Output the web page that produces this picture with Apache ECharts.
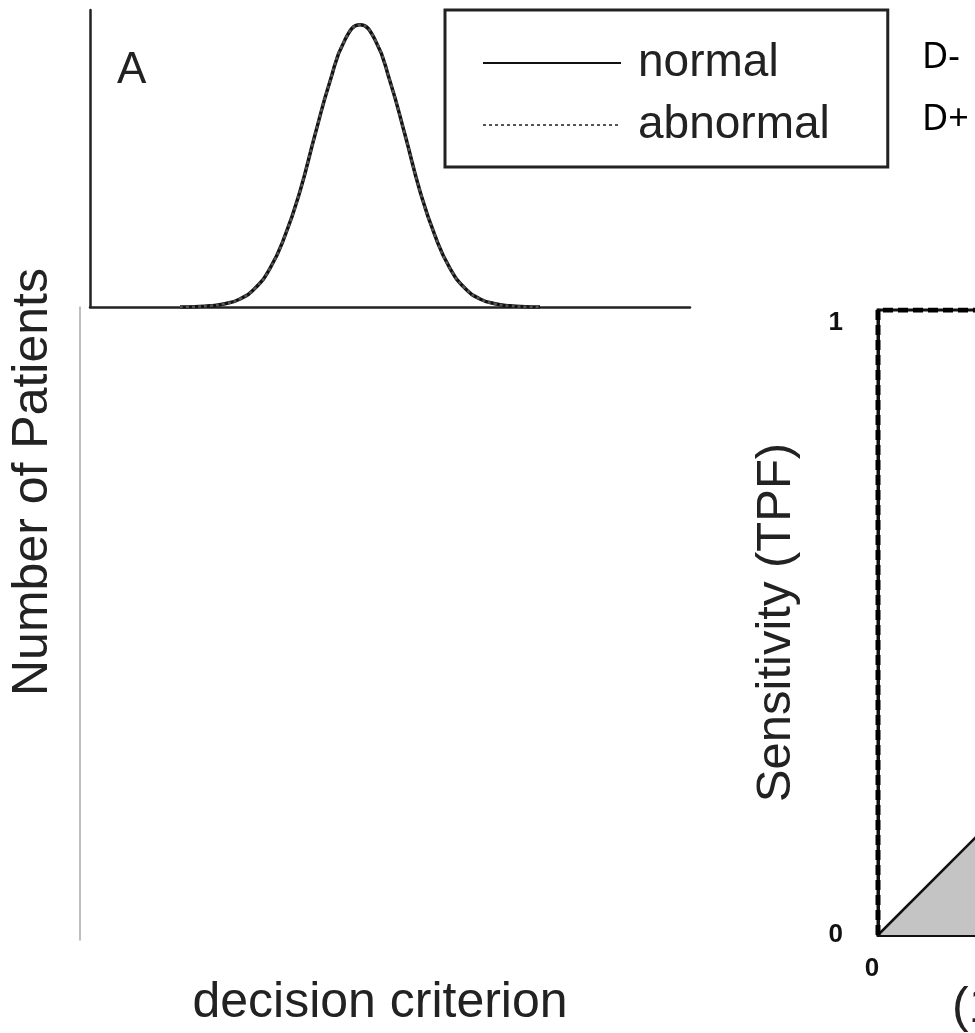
<!DOCTYPE html>
<html>
<head>
<meta charset="utf-8">
<script src="https://cdn.jsdelivr.net/npm/echarts@6/dist/echarts.min.js"></script>
<style>
  html, body { margin: 0; padding: 0; background: #fff; }
  #chart { width: 975px; height: 1033px; }
</style>
</head>
<body>
<div id="chart"></div>
<script>
// decision criterion (x) and number of patients (y)
let criterion = [15, 17.5, 20, 22.5, 25, 27.5, 30, 32.5, 35, 37.5, 40, 42.5, 45,
  47.5, 50, 52.5, 55, 57.5, 60, 62.5, 65, 67.5, 70, 72.5, 75];
let normalCount = [0, 0.1, 0.4, 1.1, 2.7, 6.3, 13, 24, 39, 58, 76, 90, 95,
  90, 76, 58, 39, 24, 13, 6.3, 2.7, 1.1, 0.4, 0.1, 0];
let abnormalCount = [0, 0.1, 0.4, 1.1, 2.7, 6.3, 13, 24, 39, 58, 76, 90, 95,
  90, 76, 58, 39, 24, 13, 6.3, 2.7, 1.1, 0.4, 0.1, 0];

// ROC panel
let rocFpf = [0, 0, 1];
let rocTpf = [0, 1, 1];
let chanceFpf = [0, 1];
let chanceTpf = [0, 1];

function pairs(xs, ys) {
  return xs.map(function(x, i) { return [x, ys[i]]; });
}

let font = '"Liberation Sans", Arial, sans-serif';
let chart = echarts.init(document.getElementById("chart"));

let option = {
  backgroundColor: "#fff",
  animation: false,
  title: {
    text: "A",
    left: 112,
    top: 44,
    textStyle: { fontFamily: font, fontSize: 44, fontWeight: "normal", color: "#222" }
  },
  legend: {
    orient: "vertical",
    left: 445,
    top: 10,
    padding: [30, 58, 19, 37],
    itemGap: 16,
    itemWidth: 138,
    itemHeight: 14,
    borderColor: "#222",
    borderWidth: 3,
    data: ["normal", "abnormal"],
    itemStyle: { opacity: 0 },
    textStyle: { fontFamily: font, fontSize: 46, color: "#222", padding: [0, 0, 0, 12] }
  },
  grid: [
    { left: 90, top: 10, width: 600, height: 297, outerBoundsMode: "none" },
    { left: 80, top: 307, width: 600, height: 633, outerBoundsMode: "none" },
    { left: 878, top: 310, width: 625, height: 625, outerBoundsMode: "none",
      show: true, borderColor: "#111", borderWidth: 3 }
  ],
  xAxis: [
    {
      gridIndex: 0, type: "value", min: 0, max: 100,
      axisLine: { lineStyle: { color: "#222", width: 2.5 } },
      axisTick: { show: false }, axisLabel: { show: false }, splitLine: { show: false }
    },
    {
      gridIndex: 1, type: "value", min: 0, max: 1,
      axisLine: { show: false }, axisTick: { show: false }, axisLabel: { show: false },
      splitLine: { show: false },
      name: "decision criterion", nameLocation: "middle", nameGap: 38,
      nameTextStyle: { fontFamily: font, fontSize: 50, color: "#222" }
    },
    {
      gridIndex: 2, type: "value", min: 0, max: 1, interval: 1,
      axisLine: { lineStyle: { color: "#111", width: 3 } },
      axisTick: { show: false }, splitLine: { show: false },
      axisLabel: {
        margin: 21, fontFamily: font, fontSize: 26, fontWeight: "bold", color: "#111",
        formatter: function(v) { return v === 0 ? "{lo|0}" : String(v); },
        rich: { lo: { padding: [0, 12, 0, 0], fontFamily: font, fontSize: 26, fontWeight: "bold", color: "#111" } }
      }
    }
  ],
  yAxis: [
    {
      gridIndex: 0, type: "value", min: 0, max: 100,
      axisLine: { show: true, lineStyle: { color: "#222", width: 2.5 } },
      axisTick: { show: false }, axisLabel: { show: false }, splitLine: { show: false }
    },
    {
      gridIndex: 1, type: "value", min: 0, max: 1,
      axisLine: { show: true, lineStyle: { color: "#aaa", width: 1.5 } },
      axisTick: { show: false }, axisLabel: { show: false }, splitLine: { show: false }
    },
    {
      gridIndex: 2, type: "value", min: 0, max: 1, interval: 1,
      axisLine: { show: true, lineStyle: { color: "#111", width: 3 } },
      axisTick: { show: false }, splitLine: { show: false },
      axisLabel: {
        margin: 35, fontFamily: font, fontSize: 26, fontWeight: "bold", color: "#111",
        formatter: function(v) { return v === 1 ? "{hi|1}" : String(v); },
        rich: { hi: { padding: [26, 0, 0, 0], fontFamily: font, fontSize: 26, fontWeight: "bold", color: "#111" } }
      },
      name: "Sensitivity (TPF)", nameLocation: "middle", nameGap: 77,
      nameTextStyle: { fontFamily: font, fontSize: 49, color: "#222", padding: [16, 0, 0, 0] }
    }
  ],
  series: [
    {
      name: "normal", type: "line", xAxisIndex: 0, yAxisIndex: 0,
      data: pairs(criterion, normalCount), smooth: true, symbol: "none",
      itemStyle: { color: "#111" },
      lineStyle: { color: "#111", width: 3.5 }
    },
    {
      name: "abnormal", type: "line", xAxisIndex: 0, yAxisIndex: 0,
      data: pairs(criterion, abnormalCount), smooth: true, symbol: "none",
      itemStyle: { color: "#555" },
      lineStyle: { color: "#555", width: 2.5, type: [3, 3] }
    },
    {
      name: "chance", type: "line", xAxisIndex: 2, yAxisIndex: 2,
      data: pairs(chanceFpf, chanceTpf), symbol: "none",
      lineStyle: { color: "#111", width: 2.5 },
      areaStyle: { color: "#c4c4c4", opacity: 1 }
    },
    {
      name: "ideal", type: "line", xAxisIndex: 2, yAxisIndex: 2,
      data: pairs(rocFpf, rocTpf), symbol: "none",
      lineStyle: { color: "#000", width: 5, type: [10, 5] }
    }
  ],
  graphic: [
    {
      type: "text", x: 33, y: 482, rotation: Math.PI / 2,
      style: { text: "Number of Patients", font: "50px " + font, fill: "#222", align: "center", verticalAlign: "middle" }
    },
    {
      type: "text", left: 922, top: 40,
      style: { text: "D-", font: "36px 'Noto Sans'", fill: "#000" }
    },
    {
      type: "text", left: 922, top: 102,
      style: { text: "D+", font: "36px 'Noto Sans'", fill: "#000" }
    },
    {
      type: "text", x: 952, y: 1008,
      style: { text: "(1-Specificity)", font: "50px " + font, fill: "#222", align: "left", verticalAlign: "middle" }
    }
  ]
};
chart.setOption(option);
</script>
</body>
</html>
